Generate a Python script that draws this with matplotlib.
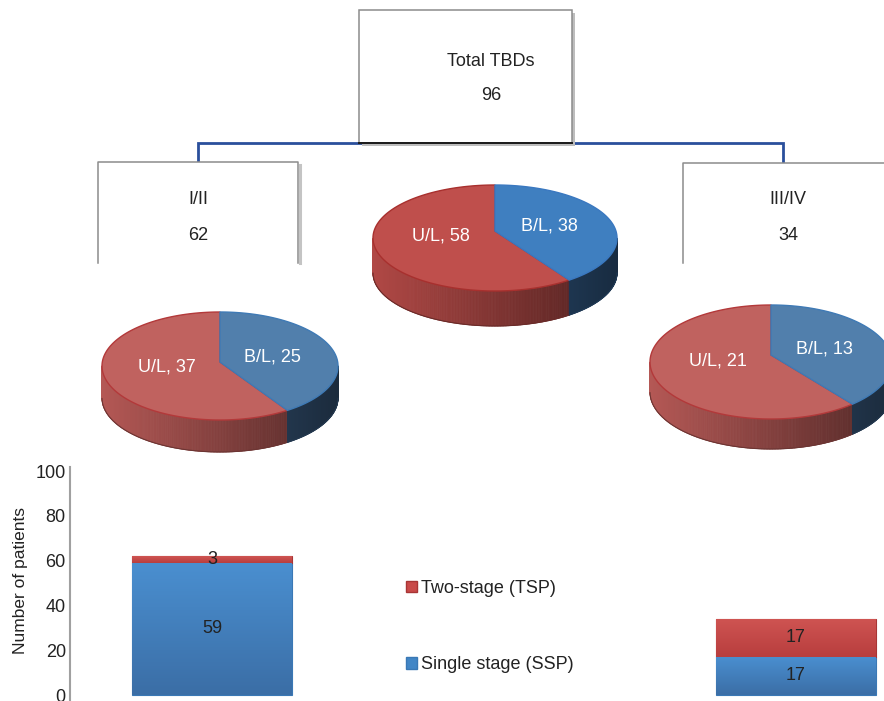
import numpy as np
import matplotlib
matplotlib.use("Agg")
import matplotlib.pyplot as plt
from matplotlib.patches import Polygon, Rectangle, Patch
from matplotlib.collections import PolyCollection
import matplotlib.colors as mcolors

plt.rcParams['font.family'] = ['Liberation Sans', 'DejaVu Sans']

# ---- data ----
total_label = "Total TBDs"
total_count = 96
stage_groups = ["I/II", "III/IV"]
stage_counts = [62, 34]
side_labels = ["U/L", "B/L"]
pie_all = [58, 38]
pie_early = [37, 25]
pie_late = [21, 13]
ssp_counts = [59, 17]
tsp_counts = [3, 17]
series_names = ["Two-stage (TSP)", "Single stage (SSP)"]
y_ticks = [0, 20, 40, 60, 80, 100]

TXT = '#222222'
W, H = 884, 701
fig = plt.figure(figsize=(W / 100, H / 100), dpi=100)
ax = fig.add_axes([0, 0, 1, 1])
ax.set_xlim(0, W)
ax.set_ylim(H, 0)
ax.axis('off')


def shade(col, f):
    r, g, b = mcolors.to_rgb(col)
    return (r * f, g * f, b * f)


def pie3d(values, cx, cy, a, b, depth, lift, top_cols, side_cols, edge_cols):
    """Tilted pie; `lift` moves the slice apex up to mimic perspective."""
    total = float(sum(values))
    sweep_bl = 360.0 * values[1] / total
    ranges = [(90.0 - sweep_bl, 90.0 - 360.0),   # U/L
              (90.0, 90.0 - sweep_bl)]           # B/L, clockwise from 12 o'clock
    ay = cy - lift

    def pt(t, dz=0.0):
        r = np.radians(t)
        return cx + a * np.cos(r), cy - b * np.sin(r) + dz

    # side wall (front half only)
    for i, (t0, t1) in enumerate(ranges):
        ts = np.linspace(t0, t1, 300)
        polys, cols = [], []
        for k in range(len(ts) - 1):
            tm = 0.5 * (ts[k] + ts[k + 1])
            if np.sin(np.radians(tm)) >= 0:
                continue
            x0, y0 = pt(ts[k])
            x1, y1 = pt(ts[k + 1])
            polys.append([(x0, y0), (x1, y1), (x1, y1 + depth), (x0, y0 + depth)])
            u = (0.5 * (x0 + x1) - (cx - a)) / (2 * a)
            cols.append(shade(side_cols[i], 1.0 - 0.55 * u))
        if polys:
            ax.add_collection(PolyCollection(polys, facecolors=cols, edgecolors=cols,
                                             linewidths=0.6, zorder=3))
            front = [t for t in ts if np.sin(np.radians(t)) < 0]
            xs = [pt(t, depth)[0] for t in front]
            ys = [pt(t, depth)[1] for t in front]
            ax.plot(xs, ys, color=shade(side_cols[i], 0.6), lw=0.8, zorder=3.5)

    # top face
    for i, (t0, t1) in enumerate(ranges):
        ts = np.linspace(t0, t1, 200)
        verts = [(cx, ay)] + [pt(t) for t in ts]
        ax.add_patch(Polygon(verts, closed=True, facecolor=top_cols[i],
                             edgecolor=edge_cols[i], lw=1.0, zorder=4))
    # labels
    for i, (t0, t1) in enumerate(ranges):
        tm = np.radians(0.5 * (t0 + t1))
        lx = cx + 0.47 * a * np.cos(tm)
        ly = ay - 0.3 * b * np.sin(tm)
        ax.text(lx, ly, f"{side_labels[i]}, {values[i]}", color='white',
                fontsize=13, ha='center', va='center', zorder=5)


def box(x0, y0, x1, y1, open_bottom=False):
    if open_bottom:
        ax.add_patch(Rectangle((x0, y0), x1 - x0, y1 - y0, facecolor='white',
                               edgecolor='none', zorder=2))
        ax.plot([x1 + 2, x1 + 2], [y0 + 3, y1], color='#c4c4c4', lw=2.2, zorder=2)
        ax.plot([x0, x0, x1, x1], [y1, y0, y0, y1], color='#8c8c8c', lw=1.1, zorder=2.5)
    else:
        ax.add_patch(Rectangle((x0 + 3, y0 + 3), x1 - x0, y1 - y0, facecolor='#bdbdbd',
                               edgecolor='none', zorder=1.8))
        ax.add_patch(Rectangle((x0, y0), x1 - x0, y1 - y0, facecolor='white',
                               edgecolor='#8c8c8c', lw=1.1, zorder=2))
        ax.plot([x0, x1], [y1, y1], color='#1a1a1a', lw=1.4, zorder=2.5)


# connector tree
ax.plot([198, 198, 783, 783], [162, 143, 143, 163], color='#2a4f9c', lw=2.0,
        zorder=1.5, solid_joinstyle='miter')

# boxes
box(359, 10, 572, 143)
ax.text(491, 61, total_label, fontsize=13, color=TXT, ha='center', va='center', zorder=3)
ax.text(491, 96, str(total_count), fontsize=13, color=TXT, ha='center', va='center', zorder=3)

box(98, 162, 298, 263, open_bottom=True)
box(683, 163, 893, 263, open_bottom=True)
for xc, name, n in [(198, stage_groups[0], stage_counts[0]),
                    (788, stage_groups[1], stage_counts[1])]:
    ax.text(xc, 200, name, fontsize=13, color=TXT, ha='center', va='center', zorder=3)
    ax.text(xc, 235, str(n), fontsize=13, color=TXT, ha='center', va='center', zorder=3)

# pies
pie3d(pie_all, 495, 238, 122, 53, 35, 7,
      top_cols=['#bf4f4c', '#3f7fc0'], side_cols=['#b04845', '#35608f'],
      edge_cols=['#a8302e', '#3a78c0'])
pie3d(pie_early, 220, 366, 118, 54, 32, 4,
      top_cols=['#c0625f', '#517fac'], side_cols=['#b45855', '#3c5f86'],
      edge_cols=['#b3393a', '#3f7ab5'])
pie3d(pie_late, 771, 362, 121, 57, 30, 7,
      top_cols=['#c0625f', '#517fac'], side_cols=['#b45855', '#3c5f86'],
      edge_cols=['#b3393a', '#3f7ab5'])

# ---- stacked bars ----
px_per = 2.24
y0_px = 695
axb = fig.add_axes([70 / W, 0, (W - 70) / W, (H - 467) / H])
axb.set_facecolor('none')
axb.set_ylim(-(H - y0_px) / px_per, 100 + (471 - 467) / px_per)
spacing = 292.0
axb.set_xlim((70 - 212) / spacing, (W - 212) / spacing)
pos = [0, 2]
bw = 160 / spacing

blue = '#4286c6'
red = '#c94a49'
b1 = axb.bar(pos, ssp_counts, width=bw, color=blue, edgecolor='#3a78b5', lw=0.8, zorder=2)
b2 = axb.bar(pos, tsp_counts, width=bw, bottom=ssp_counts, color=red,
             edgecolor='#a83535', lw=0.8, zorder=2)

# vertical shading on the bars
grad = np.linspace(0, 1, 64).reshape(-1, 1)
for bars, top_c, bot_c in [(b1, '#4a8fd0', '#3b6ea6'), (b2, '#cf5452', '#b83e3e')]:
    cmap = mcolors.LinearSegmentedColormap.from_list('g', [bot_c, top_c])
    for p in bars:
        x, y = p.get_x(), p.get_y()
        im = axb.imshow(grad, extent=[x, x + p.get_width(), y, y + p.get_height()],
                        origin='lower', cmap=cmap, aspect='auto', zorder=2.1)
        im.set_clip_path(p)

for i, xp in enumerate(pos):
    axb.text(xp, ssp_counts[i] / 2, str(ssp_counts[i]), ha='center', va='center',
             fontsize=13, color=TXT, zorder=3)
    axb.text(xp, ssp_counts[i] + tsp_counts[i] / 2, str(tsp_counts[i]), ha='center',
             va='center', fontsize=13, color=TXT, zorder=3)

for s in ['top', 'right', 'bottom']:
    axb.spines[s].set_visible(False)
axb.spines['left'].set_color('#a0a0a0')
axb.spines['left'].set_linewidth(1.5)
axb.set_yticks(y_ticks)
axb.set_xticks([])
axb.tick_params(axis='y', length=0, labelsize=13, pad=3, labelcolor=TXT)
axb.set_ylabel("Number of patients", fontsize=12.5, color=TXT)
axb.yaxis.set_label_coords(-0.051, 0.513)

handles = [Patch(facecolor=red, edgecolor='#a83535'), Patch(facecolor=blue, edgecolor='#3a78b5')]
fig.legend(handles, series_names, loc='center left',
           bbox_to_anchor=(406 / W, 1 - 626.5 / H), frameon=False, fontsize=13,
           handlelength=0.6, handleheight=0.6, handletextpad=0.25,
           labelspacing=3.3, borderpad=0, borderaxespad=0, labelcolor=TXT)

fig.savefig('out.png', dpi=100)
